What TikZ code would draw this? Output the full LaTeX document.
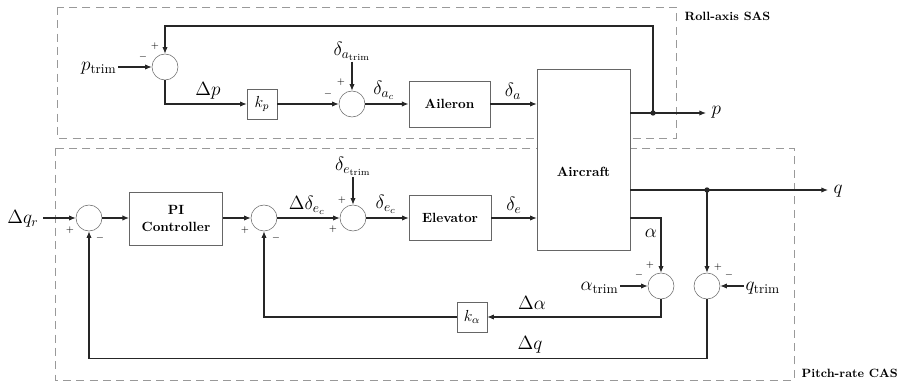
\documentclass[tikz,border=0pt]{standalone}
\usepackage{amsmath}
\usetikzlibrary{arrows.meta}

\tikzset{
  blk/.style={draw=black!60, fill=white, inner sep=0pt, font=\bfseries, align=center},
  sum/.style={circle, draw=black!60, fill=white, inner sep=0pt, minimum size=19.5pt},
  sgn/.style={font=\scriptsize\bfseries, inner sep=0pt},
  sig/.style={font=\Large, inner sep=1pt},
  arr/.style={-{Latex[length=5pt,width=4pt]}, line width=0.8pt, black!85},
  wire/.style={line width=0.8pt, black!85},
  grp/.style={draw=black!40, dash pattern=on 6pt off 4pt, line width=0.7pt},
}

\begin{document}
\begin{tikzpicture}[x=0.75pt, y=-0.75pt]

\useasboundingbox (0,0) rectangle (899,384);

% === GROUP FRAMES ===
\draw[grp] (57,7) rectangle (676,138);
\node[font=\small\bfseries, anchor=west] (rolltitle) at (680,16) {Roll-axis SAS};
\draw[grp] (55,148) rectangle (794,380);
\node[font=\small\bfseries, anchor=west] (pitchtitle) at (797,373) {Pitch-rate CAS};

% === BLOCKS ===
\node[blk, minimum width=69.75pt, minimum height=135.75pt] (air) at (583.5,159.5) {};
\node[font=\bfseries] (airlbl) at (583.5,172) {Aircraft};
\node[blk, minimum width=61pt, minimum height=34.5pt] (ail) at (449.5,104) {Aileron};
\node[blk, minimum width=61.5pt, minimum height=34pt] (elev) at (450,218) {Elevator};
\node[blk, minimum width=70pt, minimum height=40pt] (pi) at (176,218.5) {PI\\[1pt]Controller};
\node[blk, font=\large, minimum size=22.5pt] (kp) at (262,104) {$k_p$};
\node[blk, font=\large, minimum size=22.5pt] (ka) at (472,317) {$k_\alpha$};

% === SUMMING JUNCTIONS ===
\node[sum] (sumP) at (165,67) {};
\node[sum] (sumA) at (352,104) {};
\node[sum] (sumQ) at (89,218) {};
\node[sum] (sumDe) at (264,218) {};
\node[sum] (sumE) at (353,218) {};
\node[sum] (sumAl) at (661,286) {};
\node[sum] (sumQt) at (707,286) {};

% signs
\foreach \n/\x/\y/\s in {1/155/46/+, 2/143/57/-, 3/341/82/+, 4/328/94/-,
    5/70/230/+, 6/100/238/-, 7/245/230/+, 8/276/238/-, 9/342/200/+, 10/333/229/+,
    11/650/265/+, 12/639/275/-, 13/718/267/+, 14/729/275/-} {
  \node[sgn] (sg\n) at (\x,\y) {$\s$};
}

% === ROLL-AXIS LOOP ===
\node[sig, anchor=east] (ptrim) at (118,68) {$p_{\text{trim}}$};
\draw[arr] (ptrim.east |- sumP) -- (sumP.west);
\draw[arr] (sumP.south) |- (kp.west);
\node[sig] (dp) at (208,91) {$\Delta p$};
\draw[arr] (kp.east) -- (sumA.west);
\node[sig] (datrim) at (352,51) {$\delta_{a_{\text{trim}}}$};
\draw[arr] (datrim.south) -- (sumA.north);
\draw[arr] (sumA.east) -- (ail.west);
\node[sig] (dac) at (384,90) {$\delta_{a_c}$};
\draw[arr] (ail.east) -- (ail.east -| air.west);
\node[sig] (da) at (513,91) {$\delta_a$};

\coordinate (pout) at (706,113);
\coordinate (pdot) at (653,113);
\draw[arr] (air.east |- pout) -- (pout);
\node[sig, anchor=west] (plbl) at (710,112) {$p$};
\fill[black!85] (pdot) circle (2pt);
\draw[arr] (pdot) -- ++(0,-87) -| (sumP.north);

% === PITCH-RATE LOOP ===
\node[sig, anchor=east] (dqr) at (40,219) {$\Delta q_r$};
\draw[arr] (43,218) -- (sumQ.west);
\draw[arr] (sumQ.east) -- (pi.west |- sumQ);
\draw[arr] (pi.east |- sumDe) -- (sumDe.west);
\draw[arr] (sumDe.east) -- (sumE.west);
\node[sig] (ddec) at (307,205) {$\Delta\delta_{e_c}$};
\node[sig] (detrim) at (353,166) {$\delta_{e_{\text{trim}}}$};
\draw[arr] (detrim.south) -- (sumE.north);
\draw[arr] (sumE.east) -- (elev.west);
\node[sig] (dec) at (386,204) {$\delta_{e_c}$};
\draw[arr] (elev.east) -- (elev.east -| air.west);
\node[sig] (de) at (514,205) {$\delta_e$};

% outputs q and alpha
\coordinate (qout) at (828,190);
\coordinate (qdot) at (707,190);
\draw[arr] (air.east |- qout) -- (qout);
\node[sig, anchor=west] (qlbl) at (832,191) {$q$};
\fill[black!85] (qdot) circle (2pt);
\draw[arr] (qdot) -- (sumQt.north);
\draw[arr] (air.east |- sumE) -| (sumAl.north);
\node[sig] (alpha) at (651,233) {$\alpha$};

\node[sig, anchor=east] (atrim) at (620,288) {$\alpha_{\text{trim}}$};
\draw[arr] (atrim.east |- sumAl) -- (sumAl.west);
\node[sig, anchor=west] (qtrim) at (744,288) {$q_{\text{trim}}$};
\draw[arr] (qtrim.west |- sumQt) -- (sumQt.east);

% feedback paths
\draw[arr] (sumAl.south) |- (ka.east);
\node[sig] (dal) at (532,303) {$\Delta\alpha$};
\draw[arr] (ka.west) -| (sumDe.south);
\draw[arr] (sumQt.south) -- ++(0,59) -| (sumQ.south);
\node[sig] (dq) at (530,345) {$\Delta q$};

\end{tikzpicture}
\end{document}
